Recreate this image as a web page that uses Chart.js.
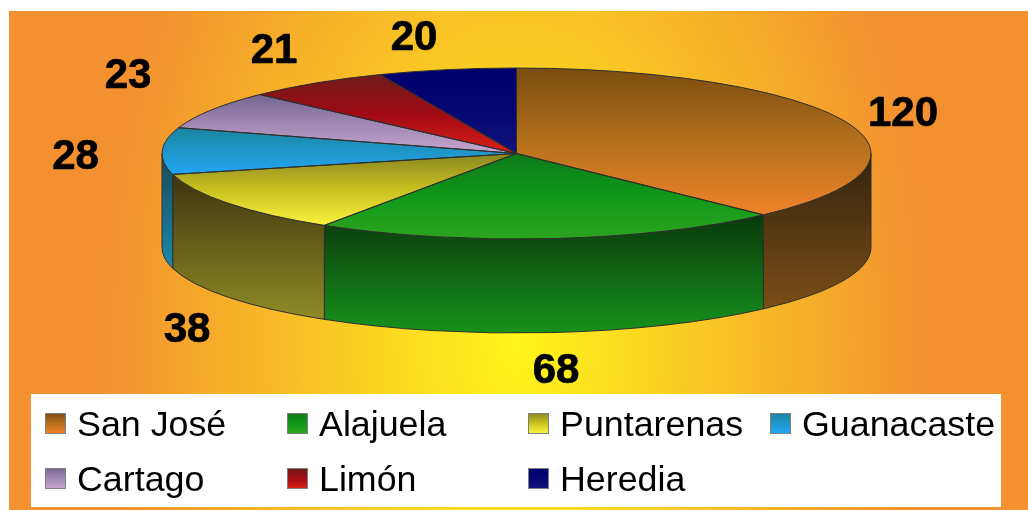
<!DOCTYPE html>
<html><head><meta charset="utf-8">
<style>html,body{margin:0;padding:0;background:#fff;overflow:hidden}
#wrap{position:absolute;left:0;top:0;width:1028px;height:510px}
canvas{display:block;filter:blur(0.55px)}</style>
<script src="https://cdn.jsdelivr.net/npm/chart.js@4/dist/chart.umd.min.js"></script>
</head><body><div id="wrap"><canvas id="c" width="1028" height="510"></canvas></div>
<script>
const categories = ['San José','Alajuela','Puntarenas','Guanacaste','Cartago','Limón','Heredia'];
const values = [120,68,38,28,23,21,20];

const faceStops = [
  ['#7a4c10','#b4701c','#ef832b'],
  ['#0b7a18','#10981a','#2ca51e'],
  ['#8a8523','#c9c020','#fbf33e'],
  ['#1a84a0','#1f96c8','#22a6f6'],
  ['#736690','#a088b4','#c9a4d0'],
  ['#6e1a18','#a00a15','#da2016'],
  ['#00006e','#060672','#12127c']
];
const wallStops = [
  ['#33230f','#7a4e16'],
  ['#0a380c','#16931b'],
  ['#3c340e','#908b26'],
  ['#1a4a58','#1a8aac'],
  ['#000','#000'],['#000','#000'],['#000','#000']
];
const labelAnchors = [[903,126],[556,383],[187,342],[75.5,169],[128,88],[274,63],[414,50]];
const legendCols = [45,287,528,770];
const legendRows = [413,468];
const ELL = {cx:516.5, cy:153.5, rx:354.5, ry:85.5, depth:94};
const LINE = '#2e2e2e';

function addStops(g, stops){ stops.forEach((c,i)=>g.addColorStop(i/(stops.length-1),c)); return g; }

function sliceRange(a0,a1){
  const pts=[Math.sin(a0),Math.sin(a1),0];
  [-Math.PI/2,Math.PI/2,3*Math.PI/2].forEach(a=>{ if(a>a0&&a<a1) pts.push(Math.sin(a)); });
  return [Math.min(...pts),Math.max(...pts)];
}

function faceFill(ctx){
  if(ctx.dataIndex===undefined||!ctx.chart.chartArea) return '#888';
  const data=ctx.dataset.data, total=data.reduce((a,b)=>a+b,0);
  let s=-Math.PI/2;
  for(let i=0;i<ctx.dataIndex;i++) s+=data[i]/total*2*Math.PI;
  const e=s+data[ctx.dataIndex]/total*2*Math.PI;
  const area=ctx.chart.chartArea, cy=(area.top+area.bottom)/2, R=(area.bottom-area.top)/2;
  const [lo,hi]=sliceRange(s,e);
  return addStops(ctx.chart.ctx.createLinearGradient(0,cy+R*lo,0,cy+R*hi),faceStops[ctx.dataIndex]);
}

const pie3d = {
  id:'pie3d',
  beforeDraw(chart){
    const c=chart.ctx; c.save();
    c.fillStyle='#fff'; c.fillRect(0,0,1028,510);
    c.beginPath(); c.rect(9,11,1019,499); c.clip();
    c.translate(515,345); c.scale(410,676);
    const g=c.createRadialGradient(0,0,0,0,0,1);
    g.addColorStop(0,'#fff61a'); g.addColorStop(1,'#f39130');
    c.fillStyle=g; c.fillRect(-2,-2,4,4);
    c.restore();
  },
  beforeDatasetsDraw(chart){
    const c=chart.ctx, arcs=chart.getDatasetMeta(0).data, E=ELL;
    arcs.forEach((el,i)=>{
      const a0=Math.max(el.startAngle,0), a1=Math.min(el.endAngle,Math.PI);
      if(a1<=a0) return;
      const hi=E.cy+E.ry*sliceRange(a0,a1)[1]+E.depth;
      c.save();
      c.beginPath();
      c.ellipse(E.cx,E.cy,E.rx,E.ry,0,a0,a1);
      c.ellipse(E.cx,E.cy+E.depth,E.rx,E.ry,0,a1,a0,true);
      c.closePath();
      const top=E.cy+E.ry*Math.min(Math.sin(a0),Math.sin(a1));
      c.fillStyle=addStops(c.createLinearGradient(0,top,0,hi),wallStops[i]);
      c.fill();
      c.strokeStyle=LINE; c.lineWidth=1; c.stroke();
      c.restore();
    });
    const first=arcs[0];
    c.save();
    c.translate(E.cx,E.cy);
    c.scale(E.rx/first.outerRadius,E.ry/first.outerRadius);
    c.translate(-first.x,-first.y);
  },
  afterDatasetsDraw(chart){
    const c=chart.ctx, arcs=chart.getDatasetMeta(0).data, E=ELL;
    c.restore();
    c.save();
    c.strokeStyle=LINE; c.lineWidth=1;
    arcs.forEach(el=>{
      c.beginPath();
      c.moveTo(E.cx,E.cy);
      c.ellipse(E.cx,E.cy,E.rx,E.ry,0,el.startAngle,el.endAngle);
      c.closePath(); c.stroke();
    });
    c.restore();
    // value labels
    c.save();
    c.font='bold 42px "Liberation Sans"'; c.textAlign='center'; c.textBaseline='alphabetic';
    c.fillStyle='#000'; c.strokeStyle='#000'; c.lineWidth=0.7; c.lineJoin='round';
    chart.data.datasets[0].data.forEach((v,i)=>{
      c.fillText(String(v),labelAnchors[i][0],labelAnchors[i][1]);
      c.strokeText(String(v),labelAnchors[i][0],labelAnchors[i][1]);
    });
    c.restore();
    // legend
    c.save();
    c.fillStyle='#fff'; c.fillRect(31,394,970,113);
    c.font='35.8px "Liberation Sans"'; c.textAlign='left'; c.textBaseline='alphabetic';
    chart.data.labels.forEach((lab,i)=>{
      const x=legendCols[i%4], y=legendRows[Math.floor(i/4)];
      c.fillStyle=addStops(c.createLinearGradient(0,y,0,y+20),faceStops[i]);
      c.fillRect(x,y,20,20);
      c.strokeStyle='#808080'; c.lineWidth=1; c.strokeRect(x+.5,y+.5,20,20);
      c.fillStyle='#000';
      c.fillText(lab,x+32,y+22.5);
    });
    c.restore();
  }
};

new Chart(document.getElementById('c'),{
  type:'pie',
  data:{labels:categories,datasets:[{data:values,backgroundColor:faceFill,borderWidth:0,hoverOffset:0}]},
  options:{responsive:false,animation:false,events:[],
    layout:{padding:0},
    plugins:{legend:{display:false},tooltip:{enabled:false},title:{display:false}}},
  plugins:[pie3d]
});
</script></body></html>
